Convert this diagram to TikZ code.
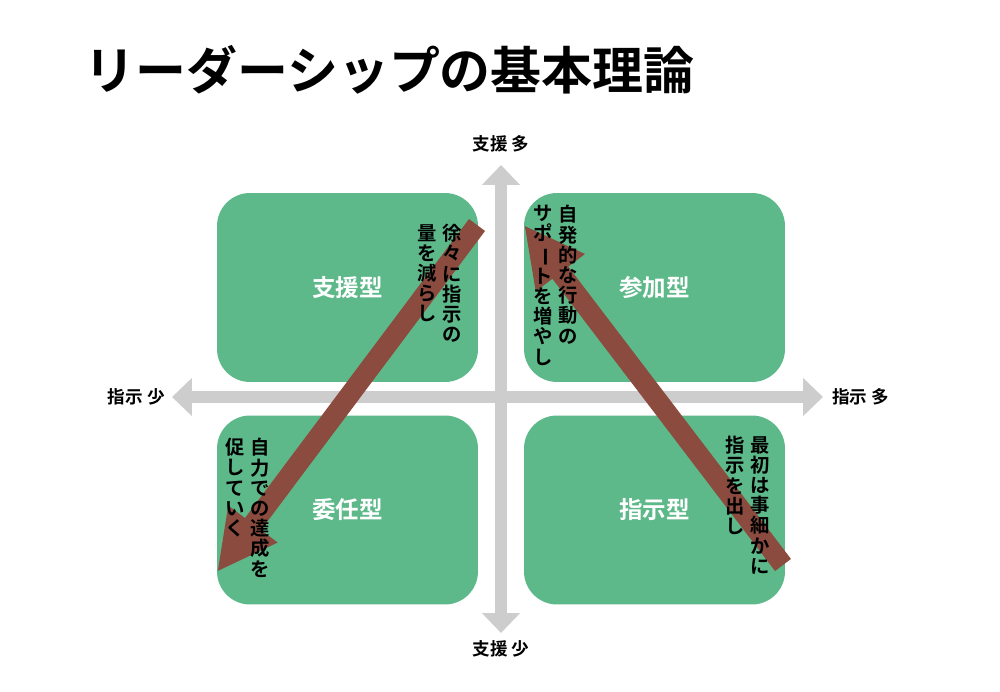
\documentclass[tikz,border=0pt]{standalone}
\usepackage{fontspec}
\setmainfont{Noto Sans CJK JP}[BoldFont={Noto Sans CJK JP Bold}]
\usepackage{xcolor}
\usetikzlibrary{arrows.meta,positioning}
\definecolor{quadGreen}{RGB}{94,185,138}
\definecolor{arrowBrown}{RGB}{139,75,62}
\definecolor{axisGray}{RGB}{205,205,205}
\newcommand{\tateBar}{\rotatebox[origin=c]{-90}{ー}}

\begin{document}
\begin{tikzpicture}[x=0.02cm,y=-0.02cm,
			quadBox/.style={shape=rectangle, fill=quadGreen, rounded corners=0.66cm, minimum width=5.22cm, minimum height=3.78cm, text=white, font=\fontsize{13.4pt}{16pt}\selectfont\bfseries},
			axisArrow/.style={draw=axisGray, line width=0.24cm, {Triangle[length=0.4cm,width=0.74cm]}-{Triangle[length=0.4cm,width=0.74cm]}},
			bigArrow/.style={draw=arrowBrown, line width=0.4cm, -{Triangle[length=1.2cm,width=1.14cm]}},
			axisLabel/.style={inner sep=0pt, font=\fontsize{10pt}{12pt}\selectfont\bfseries},
			tateText/.style={anchor=north, inner sep=0pt, align=center, font=\fontsize{11pt}{11.5pt}\selectfont\bfseries}]
  \useasboundingbox[fill=white] (0,0) rectangle (1000,692);
  % title
  \node[anchor=west, inner sep=0pt, font=\fontsize{29pt}{34pt}\selectfont\bfseries] (title) at (84,70) {リーダーシップの基本理論};
  % axes
  \coordinate (supTop) at (501,165);
  \coordinate (supBot) at (501,633);
  \coordinate (dirLeft) at (172,397);
  \coordinate (dirRight) at (823,397);
  \draw[axisArrow] (supBot) -- (supTop);
  \draw[axisArrow] (dirLeft) -- (dirRight);
  \node[axisLabel, above=7pt of supTop] (supMany) {支援 多};
  \node[axisLabel, below=4pt of supBot] (supFew) {支援 少};
  \node[axisLabel, left=4pt of dirLeft] (dirFew) {指示 少};
  \node[axisLabel, right=5pt of dirRight] (dirMany) {指示 多};
  % quadrants
  \node[quadBox] (shien) at (347.5,287.5) {支援型};
  \node[quadBox] (sanka) at (654.5,287.5) {参加型};
  \node[quadBox] (inin) at (347.5,510) {委任型};
  \node[quadBox] (shiji) at (654.5,510) {指示型};
  % transitions
  \coordinate (startA) at (477,225);
  \coordinate (endA) at (217,572);
  \coordinate (startB) at (783,565);
  \coordinate (endB) at (524,225);
  \draw[bigArrow] (startA) -- (endA);
  \draw[bigArrow] (startB) -- (endB);
  % vertical notes
  \node[tateText] (noteA1) at (452,224) {徐\\々\\に\\指\\示\\の};
  \node[tateText] (noteA2) at (427,224) {量\\を\\減\\ら\\し};
  \node[tateText] (noteB1) at (568,205) {自\\発\\的\\な\\行\\動\\の};
  \node[tateText] (noteB2) at (543,205) {サ\\ポ\\\tateBar\\ト\\を\\増\\や\\し};
  \node[tateText] (noteC1) at (260,438) {自\\力\\で\\の\\達\\成\\を};
  \node[tateText] (noteC2) at (235,438) {促\\し\\て\\い\\く};
  \node[tateText] (noteD1) at (760,436) {最\\初\\は\\事\\細\\か\\に};
  \node[tateText] (noteD2) at (735,436) {指\\示\\を\\出\\し};
\end{tikzpicture}
\end{document}
